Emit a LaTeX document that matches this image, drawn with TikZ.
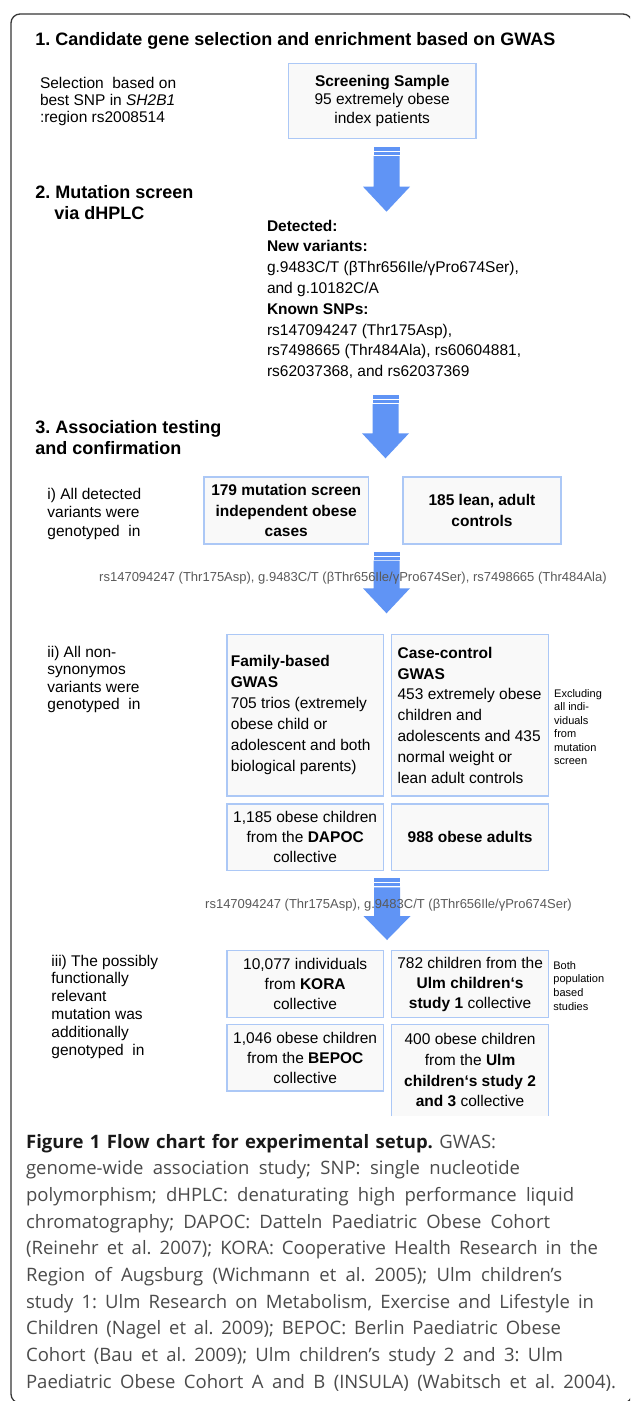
\documentclass[tikz,border=0pt]{standalone}
\usepackage{fontspec}
\setmainfont{Liberation Sans}
\newfontfamily\capfont{Open Sans}
\frenchspacing
\definecolor{boxline}{RGB}{172,200,246}
\definecolor{boxfill}{RGB}{249,249,249}
\definecolor{arrowblue}{RGB}{96,148,245}
\definecolor{labgray}{RGB}{90,90,90}
\definecolor{framegray}{RGB}{55,55,55}
\definecolor{capgray}{RGB}{75,75,75}
\definecolor{capblack}{RGB}{25,25,25}
\newcommand\blkarrow[4]{%
  \fill[arrowblue] (#1-13,#2) rectangle (#1+13,#2+4);
  \fill[arrowblue] (#1-13,#2+5) rectangle (#1+13,#2+8);
  \fill[arrowblue] (#1-13,#2+9) -- (#1+13,#2+9) -- (#1+13,#3) -- (#1+23.5,#3)
     -- (#1,#4) -- (#1-23.5,#3) -- (#1-13,#3) -- cycle;}
\newcommand\capline[2]{\makebox[#1pt][s]{#2}}
\tikzset{
  every node/.style={inner sep=0pt, outer sep=0pt},
  heading/.style={anchor=base west, align=left, font=\bfseries\fontsize{18pt}{#1}\selectfont},
  heading/.default=20.5pt,
  bodytxt/.style={anchor=base west, align=left, font=\fontsize{15.5pt}{#1}\selectfont},
  bodytxt/.default=20.8pt,
  celltxt/.style={align=center, font=\fontsize{15.5pt}{#1}\selectfont},
  celltxt/.default=20.3pt,
  celltxtb/.style={align=center, font=\bfseries\fontsize{15.5pt}{#1}\selectfont},
  celltxtb/.default=20.3pt,
  cellbox/.style={draw=boxline, fill=boxfill, line width=1.4pt},
  sidenote/.style={anchor=base west, align=left, font=\fontsize{11pt}{#1}\selectfont},
  sidenote/.default=13.6pt,
  arrowlab/.style={anchor=base, text=labgray, font=\fontsize{13pt}{15pt}\selectfont},
}
\begin{document}
\begin{tikzpicture}[x=1pt,y=-1pt]
\useasboundingbox (0,0) rectangle (630,1401);
\clip (0,0) rectangle (630,1401);
\fill[white] (0,0) rectangle (630,1401);
\draw[framegray, line width=1.3pt, rounded corners=9pt] (11,14) rectangle (632,1403);

% stage 1 (base anchor of multi-line nodes = last line baseline)
\node[heading] (h1) at (35.3,45) {1. Candidate gene selection and enrichment based on GWAS};
\node[bodytxt=17pt] (sel) at (40,122) {Selection\ \ based on\\best SNP in \textit{SH2B1}\\:region rs2008514};
\node[cellbox, minimum width=187.6pt, minimum height=75pt, celltxt=18.5pt] (scr) at (382.2,100.8)
  {\textbf{Screening Sample}\\95 extremely obese\\index patients};
\blkarrow{386.5}{147}{186.7}{211.7}

% stage 2
\node[heading] (h2) at (35.3,219) {2. Mutation screen\\\hspace*{19pt}via dHPLC};
\node[bodytxt] (det) at (267,376.6) {\textbf{Detected:}\\\textbf{New variants:}\\g.9483C/T (βThr656Ile/γPro674Ser),\\and g.10182C/A\\\textbf{Known SNPs:}\\rs147094247 (Thr175Asp),\\rs7498665 (Thr484Ala), rs60604881,\\rs62037368, and rs62037369};
\blkarrow{385.5}{395}{433.3}{458.3}

% stage 3
\node[heading=21pt] (h3) at (35.3,454) {3. Association testing\\and confirmation};
\node[bodytxt=18.5pt] (st1) at (47.4,536) {i) All detected\\variants were\\genotyped\ \ in};
\node[cellbox, minimum width=164.3pt, minimum height=66.7pt, celltxtb] (b179) at (286.2,510.5)
  {179 mutation screen\\independent obese\\cases};
\node[cellbox, minimum width=158.2pt, minimum height=66.7pt, celltxtb=20.5pt] (b185) at (482,510.5)
  {185 lean, adult\\controls};
\blkarrow{386.5}{551.7}{588.3}{613.3}
\node[arrowlab] (lab1) at (353,581.5) {rs147094247 (Thr175Asp), g.9483C/T (βThr656Ile/γPro674Ser), rs7498665 (Thr484Ala)};

\node[bodytxt=17.5pt] (st2) at (47.4,709.5) {ii) All non-\\synonymos\\variants were\\genotyped\ \ in};
\node[cellbox, minimum width=156.6pt, minimum height=161.7pt] (fam) at (305.2,715.2) {};
\node[bodytxt=21pt, anchor=west] (famt) at ([xshift=4pt]fam.west)
  {\textbf{Family-based}\\\textbf{GWAS}\\705 trios (extremely\\obese child or\\adolescent and both\\biological parents)};
\node[cellbox, minimum width=157pt, minimum height=161.7pt] (cc) at (470.1,715.2) {};
\node[bodytxt=20.8pt, anchor=west] (cct) at ([xshift=6pt]cc.west)
  {\textbf{Case-control}\\\textbf{GWAS}\\453 extremely obese\\children and\\adolescents and 435\\normal weight or\\lean adult controls};
\node[sidenote=13.5pt] (excl) at (554.2,764.5) {Excluding\\all indi-\\viduals\\from\\mutation\\screen};
\node[cellbox, minimum width=156.6pt, minimum height=66.7pt, celltxt=20pt] (dap) at (305.2,837.4)
  {1,185 obese children\\from the \textbf{DAPOC}\\collective};
\node[cellbox, minimum width=157pt, minimum height=66.7pt, celltxtb] (adu) at (470.1,837.4)
  {988 obese adults};
\blkarrow{387}{878.3}{916}{940}
\node[arrowlab] (lab2) at (388.5,908) {rs147094247 (Thr175Asp), g.9483C/T (βThr656Ile/γPro674Ser)};

\node[bodytxt=17.9pt] (st3) at (51.4,1055.5) {iii) The possibly\\functionally\\relevant\\mutation was\\additionally\\genotyped\ \ in};
\node[cellbox, minimum width=156.6pt, minimum height=66.6pt, celltxt=20pt] (kora) at (305.2,984)
  {10,077 individuals\\from \textbf{KORA}\\collective};
\node[cellbox, minimum width=157pt, minimum height=66.6pt, celltxt=20pt] (ulm1) at (470.1,984)
  {782 children from the\\\textbf{Ulm children‘s}\\\textbf{study 1} collective};
\node[sidenote=13.7pt] (both) at (553.4,1010.1) {Both\\population\\based\\studies};
\node[cellbox, minimum width=156.6pt, minimum height=66.7pt, celltxt=20pt] (bep) at (305.2,1057.6)
  {1,046 obese children\\from the \textbf{BEPOC}\\collective};
\node[fill=boxfill, minimum width=157pt, minimum height=91.7pt, celltxt=20.7pt] (ulm23) at (470.1,1070.2)
  {400 obese children\\from the \textbf{Ulm}\\\textbf{children‘s study 2}\\\textbf{and 3} collective};
\draw[boxline, line width=1.4pt] (ulm23.south west) -- (ulm23.north west) -- (ulm23.north east) -- (ulm23.south east);

% caption
\node[anchor=base west, align=left, text=capgray, font=\capfont\fontsize{18.5pt}{26.7pt}\selectfont] (cap) at (26.1,1388.3)
  {\capline{470}{\textcolor{capblack}{\bfseries Figure 1 Flow chart for experimental setup.} GWAS:}\\
   \capline{494}{genome-wide association study; SNP: single nucleotide}\\
   \capline{548}{polymorphism; dHPLC: denaturating high performance liquid}\\
   \capline{524}{chromatography; DAPOC: Datteln Paediatric Obese Cohort}\\
   \capline{572}{(Reinehr et al. 2007); KORA: Cooperative Health Research in the}\\
   \capline{536}{Region of Augsburg (Wichmann et al. 2005); Ulm children’s}\\
   \capline{568}{study 1: Ulm Research on Metabolism, Exercise and Lifestyle in}\\
   \capline{535}{Children (Nagel et al. 2009); BEPOC: Berlin Paediatric Obese}\\
   \capline{537}{Cohort (Bau et al. 2009); Ulm children’s study 2 and 3: Ulm}\\
   \capline{590}{Paediatric Obese Cohort A and B (INSULA) (Wabitsch et al. 2004).}};
\end{tikzpicture}
\end{document}
